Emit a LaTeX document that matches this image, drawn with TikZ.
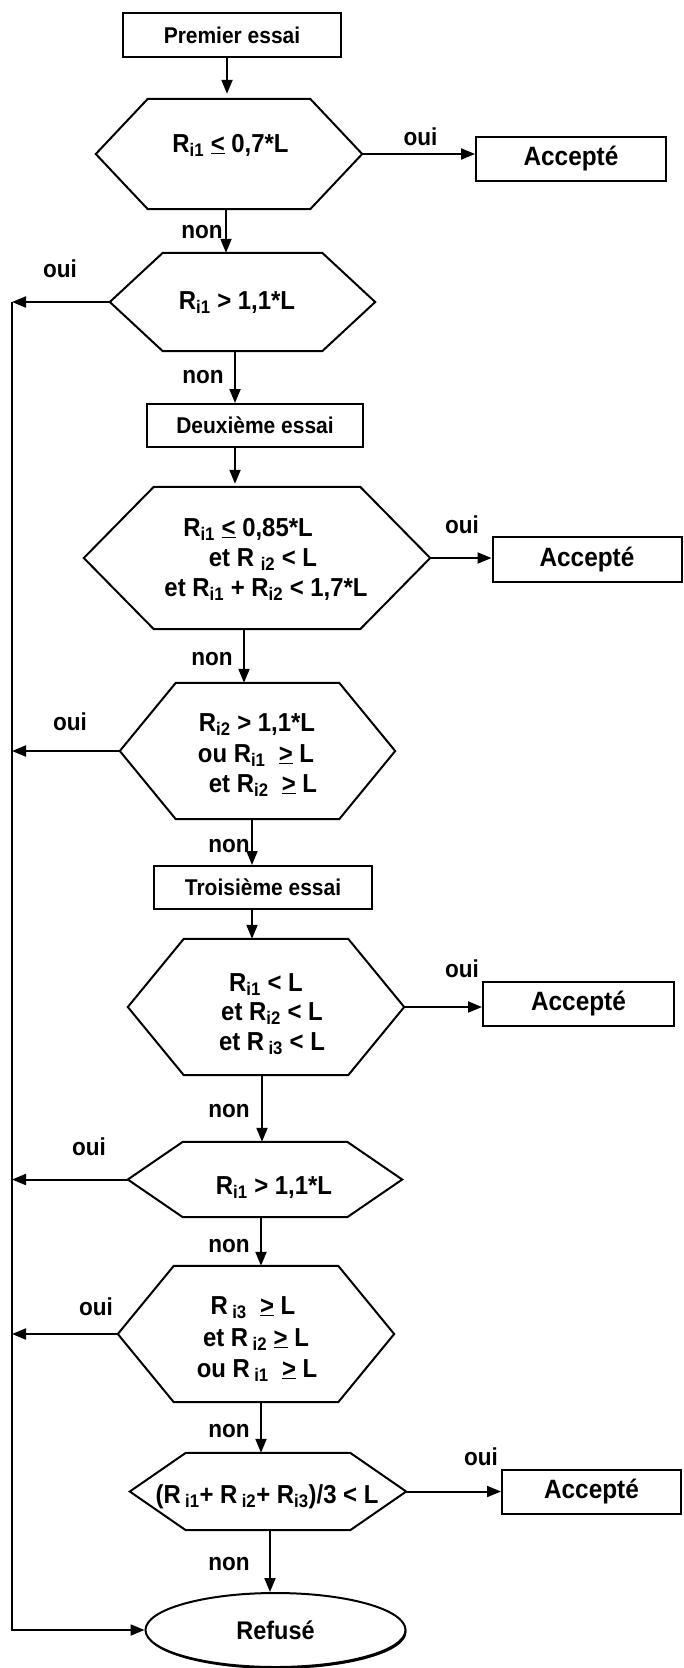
\documentclass[tikz,border=0pt]{standalone}
\usepackage{fontspec}
\setmainfont{Liberation Sans}[FakeStretch=0.92]
\usetikzlibrary{arrows.meta,shapes.geometric,shadows}
\tikzset{
  lw/.style={line width=2pt},
  arr/.style={lw,-{Triangle[length=14pt,width=11pt]}},
  hexbg/.style={rectangle,draw=none,inner sep=0pt},
  hexline/.style={lw,line join=miter},
  stepbox/.style={rectangle,draw,lw,fill=white,inner sep=0pt,font=\fontsize{22.8}{27}\selectfont\bfseries},
  accbox/.style={rectangle,draw,lw,fill=white,inner sep=0pt,font=\fontsize{26.5}{30}\selectfont\bfseries},
  cond/.style={inner sep=0pt,anchor=base,font=\fontsize{26}{30}\selectfont\bfseries},
  lab/.style={inner sep=0pt,anchor=base,font=\fontsize{24.5}{28}\selectfont\bfseries},
}
\newcommand\hexdraw[2]{\draw[hexline] (#1.west) -- ([xshift=#2pt]#1.north west) -- ([xshift=-#2pt]#1.north east) -- (#1.east) -- ([xshift=-#2pt]#1.south east) -- ([xshift=#2pt]#1.south west) -- cycle;}
\newcommand\ul[1]{\underline{#1}}
\begin{document}
\begin{tikzpicture}[x=1pt,y=-1pt]
\fill[white] (0,0) rectangle (683,1668);
\useasboundingbox (0,0) rectangle (683,1668);
% column coordinates
\coordinate (rail) at (12,0);
\coordinate (a1) at (227,0);
\coordinate (a2) at (226,0);
\coordinate (a3) at (235,0);
\coordinate (a4) at (244,0);
\coordinate (a5) at (252,0);
\coordinate (a6) at (262,0);
\coordinate (a7) at (261,0);
\coordinate (a8) at (270,0);

% boxes
\node[stepbox,minimum width=218pt,minimum height=44pt] (b1) at (232,35) {Premier essai};
\node[stepbox,minimum width=216pt,minimum height=43pt] (b2) at (255,425.5) {Deuxième essai};
\node[stepbox,minimum width=218pt,minimum height=43pt] (b3) at (263,887.5) {Troisième essai};
\node[accbox,minimum width=190pt,minimum height=44pt] (acc1) at (571,159) {Accepté};
\node[accbox,minimum width=189pt,minimum height=45pt] (acc2) at (587,559.5) {Accepté};
\node[accbox,minimum width=191pt,minimum height=44pt] (acc3) at (578.5,1004) {Accepté};
\node[accbox,minimum width=179pt,minimum height=44pt] (acc4) at (591.5,1492) {Accepté};

% hexagons
\node[hexbg,minimum width=266pt,minimum height=110pt] (h1) at (229,154) {};
\node[hexbg,minimum width=265pt,minimum height=98pt] (h2) at (242.5,302) {};
\node[hexbg,minimum width=346pt,minimum height=142pt] (h3) at (257,558) {};
\node[hexbg,minimum width=275pt,minimum height=136pt] (h4) at (257.5,751) {};
\node[hexbg,minimum width=276pt,minimum height=136pt] (h5) at (266,1007) {};
\node[hexbg,minimum width=274pt,minimum height=75pt] (h6) at (265,1179.5) {};
\node[hexbg,minimum width=276pt,minimum height=136pt] (h7) at (256,1334) {};
\node[hexbg,minimum width=276pt,minimum height=77pt] (h8) at (268,1491.5) {};
\hexdraw{h1}{52}
\hexdraw{h2}{53}
\hexdraw{h3}{70}
\hexdraw{h4}{56}
\hexdraw{h5}{56}
\hexdraw{h6}{55}
\hexdraw{h7}{56}
\hexdraw{h8}{56}

% ellipse
\node[ellipse,draw,lw,fill=white,minimum width=260pt,minimum height=74pt,inner sep=0pt,
  drop shadow={shadow xshift=1pt,shadow yshift=-2pt,opacity=1,fill=black},
  font=\fontsize{25.5}{30}\selectfont\bfseries] (ref) at (275.5,1630) {Refusé};

% condition texts
\node[cond] (t1) at (230.5,152) {R\textsubscript{i1} \ul{<} 0,7*L};
\node[cond] (t2) at (237,309) {R\textsubscript{i1} > 1,1*L};
\node[cond] (t3a) at (248,536) {R\textsubscript{i1} \ul{<} 0,85*L};
\node[cond] (t3b) at (263,566) {et R\ \textsubscript{i2} < L};
\node[cond] (t3c) at (266,596) {et R\textsubscript{i1} + R\textsubscript{i2} < 1,7*L};
\node[cond] (t4a) at (257,731) {R\textsubscript{i2} > 1,1*L};
\node[cond] (t4b) at (256,762) {ou R\textsubscript{i1}\ \ \ul{>} L};
\node[cond] (t4c) at (263,792) {et R\textsubscript{i2}\ \ \ul{>} L};
\node[cond] (t5a) at (266,991) {R\textsubscript{i1} < L};
\node[cond] (t5b) at (272,1020) {et R\textsubscript{i2} < L};
\node[cond] (t5c) at (272,1050) {et R\,\textsubscript{i3} < L};
\node[cond] (t6) at (274,1194) {R\textsubscript{i1} > 1,1*L};
\node[cond] (t7a) at (253,1314) {R\,\textsubscript{i3}\ \ \ul{>} L};
\node[cond] (t7b) at (256,1346) {et R\,\textsubscript{i2}\ \ul{>} L};
\node[cond] (t7c) at (257,1377) {ou R\,\textsubscript{i1}\ \ \ul{>} L};
\node[cond] (t8) at (267,1503) {(R\,\textsubscript{i1}+ R\,\textsubscript{i2}+ R\textsubscript{i3})/3 < L};

% vertical connectors
\draw[arr,shorten >=5pt] (a1 |- b1.south) -- (a1 |- h1.north);
\draw[arr] (a2 |- h1.south) -- (a2 |- h2.north);
\draw[arr] (a3 |- h2.south) -- (a3 |- b2.north);
\draw[arr,shorten >=3pt] (a3 |- b2.south) -- (a3 |- h3.north);
\draw[arr] (a4 |- h3.south) -- (a4 |- h4.north);
\draw[arr] (a5 |- h4.south) -- (a5 |- b3.north);
\draw[arr] (a5 |- b3.south) -- (a5 |- h5.north);
\draw[arr] (a6 |- h5.south) -- (a6 |- h6.north);
\draw[arr] (a7 |- h6.south) -- (a7 |- h7.north);
\draw[arr] (a7 |- h7.south) -- (a7 |- h8.north);
\draw[arr] (a8 |- h8.south) -- (a8 |- ref.north);

% oui to the right
\draw[arr] (h1.east) -- (h1.east -| acc1.west);
\draw[arr] (h3.east) -- (h3.east -| acc2.west);
\draw[arr] (h5.east) -- (h5.east -| acc3.west);
\draw[arr] (h8.east) -- (h8.east -| acc4.west);

% oui to the left
\draw[arr] (h2.west -| rail) -- (rail |- ref.west) -- (ref.west);
\draw[arr] (h2.west) -- (h2.west -| rail);
\draw[arr] (h4.west) -- (h4.west -| rail);
\draw[arr] (h6.west) -- (h6.west -| rail);
\draw[arr] (h7.west) -- (h7.west -| rail);

% labels
\node[lab] (o1) at (420.5,145) {oui};
\node[lab] (o2) at (60,277) {oui};
\node[lab] (o3) at (462,533) {oui};
\node[lab] (o4) at (70,730) {oui};
\node[lab] (o5) at (462,977) {oui};
\node[lab] (o6) at (89,1155) {oui};
\node[lab] (o7) at (96,1315) {oui};
\node[lab] (o8) at (481,1465) {oui};
\node[lab] (n1) at (202,238) {non};
\node[lab] (n2) at (203,383) {non};
\node[lab] (n3) at (212,665) {non};
\node[lab] (n4) at (229,852) {non};
\node[lab] (n5) at (229,1117) {non};
\node[lab] (n6) at (229,1252) {non};
\node[lab] (n7) at (229,1437) {non};
\node[lab] (n8) at (229,1570) {non};
\end{tikzpicture}
\end{document}
